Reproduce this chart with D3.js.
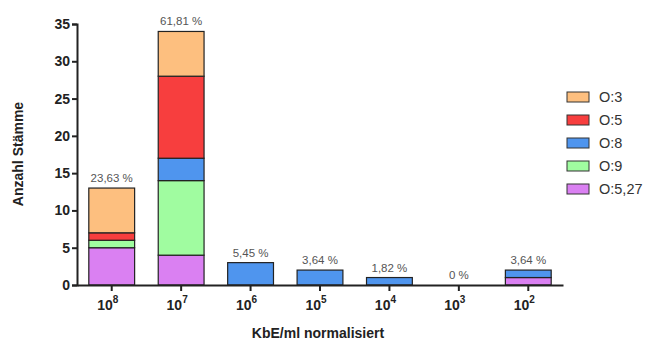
<!DOCTYPE html>
<meta charset="utf-8"/>
<html>
  <head>
    <script src="https://d3js.org/d3.v7.min.js"></script>
    <style>
      body { margin: 0; background: #fff; }
      svg text { font-family: 'Liberation Sans', Arial, sans-serif; }
    </style>
  </head>
  <body>
<script type="text/javascript">
var width = 650;
var height = 349;

// data
var categories = ['8', '7', '6', '5', '4', '3', '2'];   // exponent of 10
var serotypes = ['O:5,27', 'O:9', 'O:8', 'O:5', 'O:3'];   // stack order bottom -> top
var legendOrder = ['O:3', 'O:5', 'O:8', 'O:9', 'O:5,27'];
var o527 = [5, 4, 0, 0, 0, 0, 1];
var o9   = [1, 10, 0, 0, 0, 0, 0];
var o8   = [0, 3, 3, 2, 1, 0, 1];
var o5   = [1, 11, 0, 0, 0, 0, 0];
var o3   = [6, 6, 0, 0, 0, 0, 0];
var percentLabels = ['23,63 %', '61,81 %', '5,45 %', '3,64 %', '1,82 %', '0 %', '3,64 %'];
var yTicks = [0, 5, 10, 15, 20, 25, 30, 35];

var colors = {
  'O:3': '#fdbf7f',
  'O:5': '#f73e3e',
  'O:8': '#4f95ee',
  'O:9': '#a0fca0',
  'O:5,27': '#da80f2'
};

var rows = categories.map(function(c, i) {
  return {cat: c, 'O:5,27': o527[i], 'O:9': o9[i], 'O:8': o8[i], 'O:5': o5[i], 'O:3': o3[i], label: percentLabels[i]};
});

var svg = d3.select('body').append('svg')
    .attr('width', width)
    .attr('height', height);

var x = d3.scaleBand()
    .domain(categories)
    .range([77, 563])
    .paddingInner(0.34)
    .paddingOuter(0.17);

var y = d3.scaleLinear()
    .domain([0, 35])
    .range([285, 24]);

var stack = d3.stack().keys(serotypes);
var series = stack(rows);

svg.append('g')
  .selectAll('g')
  .data(series)
  .enter()
  .append('g')
    .attr('fill', function(d) { return colors[d.key]; })
  .selectAll('rect')
  .data(function(d) { return d; })
  .enter()
  .filter(function(d) { return d[1] > d[0]; })
  .append('rect')
    .attr('x', function(d) { return x(d.data.cat); })
    .attr('y', function(d) { return y(d[1]); })
    .attr('width', x.bandwidth())
    .attr('height', function(d) { return y(d[0]) - y(d[1]); })
    .attr('stroke', '#222')
    .attr('stroke-width', 1.2);

// percent labels
svg.append('g')
  .selectAll('text')
  .data(rows)
  .enter()
  .append('text')
    .attr('x', function(d) { return x(d.cat) + x.bandwidth() / 2; })
    .attr('y', function(d) {
      var tot = d['O:5,27'] + d['O:9'] + d['O:8'] + d['O:5'] + d['O:3'];
      return y(tot) - 6;
    })
    .attr('text-anchor', 'middle')
    .attr('font-size', '11.5px')
    .attr('fill', '#555')
    .text(function(d) { return d.label; });

// y axis
var yAxis = svg.append('g')
    .attr('transform', 'translate(77,0)')
    .call(d3.axisLeft(y).tickValues(yTicks).tickSize(5).tickPadding(2));
yAxis.attr('font-family', null);
yAxis.select('.domain').attr('stroke', '#222').attr('stroke-width', 2);
yAxis.selectAll('.tick line').attr('stroke', '#222').attr('stroke-width', 2);
yAxis.selectAll('.tick text')
    .attr('font-size', '14px')
    .attr('font-weight', 'bold')
    .attr('fill', '#222');

// x axis
var xAxis = svg.append('g')
    .attr('transform', 'translate(0,285)')
    .call(d3.axisBottom(x).tickSize(6).tickSizeOuter(0).tickFormat(''));
xAxis.select('.domain').attr('stroke', '#222').attr('stroke-width', 2);
xAxis.selectAll('.tick line').attr('stroke', '#222').attr('stroke-width', 2);

var xLab = svg.append('g')
  .selectAll('text')
  .data(categories)
  .enter()
  .append('text')
    .attr('x', function(d) { return x(d) + x.bandwidth() / 2 - 4; })
    .attr('y', 310)
    .attr('text-anchor', 'middle')
    .attr('font-size', '14px')
    .attr('font-weight', 'bold')
    .attr('fill', '#222');
xLab.append('tspan').text('10');
xLab.append('tspan')
    .attr('dy', -7)
    .attr('font-size', '10px')
    .text(function(d) { return d; });

// axis titles
svg.append('text')
    .attr('x', 318)
    .attr('y', 338)
    .attr('text-anchor', 'middle')
    .attr('font-size', '14px')
    .attr('font-weight', 'bold')
    .attr('fill', '#222')
    .text('KbE/ml normalisiert');

svg.append('text')
    .attr('transform', 'translate(23,154) rotate(-90)')
    .attr('text-anchor', 'middle')
    .attr('font-size', '14px')
    .attr('font-weight', 'bold')
    .attr('fill', '#222')
    .text('Anzahl Stämme');

// legend
var legend = svg.append('g')
  .selectAll('g')
  .data(legendOrder)
  .enter()
  .append('g')
    .attr('transform', function(d, i) { return 'translate(567,' + (92 + i * 23) + ')'; });
legend.append('rect')
    .attr('width', 22)
    .attr('height', 10)
    .attr('fill', function(d) { return colors[d]; })
    .attr('stroke', '#333')
    .attr('stroke-width', 1);
legend.append('text')
    .attr('x', 32)
    .attr('y', 10)
    .attr('font-size', '14.5px')
    .attr('fill', '#333')
    .text(function(d) { return d; });
</script>
  </body>
</html>
